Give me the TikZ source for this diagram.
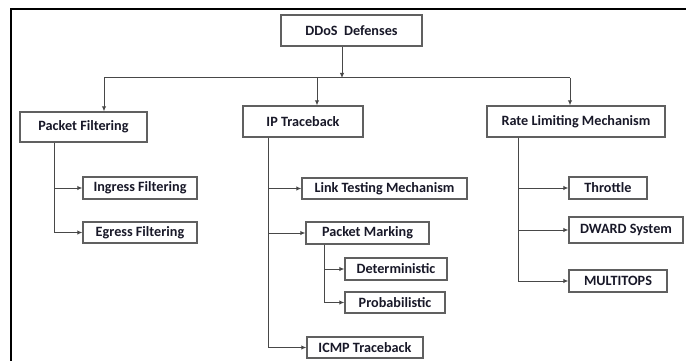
\documentclass[tikz,border=0pt]{standalone}
\usepackage{fontspec}
\setmainfont{Carlito}
\usetikzlibrary{arrows.meta}
\definecolor{boxgray}{HTML}{606060}
\definecolor{linegray}{HTML}{484848}
\definecolor{txt}{HTML}{181828}
\begin{document}
\begin{tikzpicture}[x=1pt,y=-1pt,
  box/.style={draw=boxgray, line width=1.4pt, rectangle, inner sep=0pt, fill=white,
    font=\fontsize{14.2}{16}\selectfont\bfseries, text=txt},
  conn/.style={draw=linegray, line width=1pt},
  arr/.style={conn, -{Latex[length=5pt,width=4.5pt]}}]
\useasboundingbox (0,0) rectangle (686,361);
\fill[white] (0,0) rectangle (686,361);
% outer frame
\draw[line width=2.5pt, black] (11,361) -- (11,9) -- (686,9);
% boxes
\node[box, minimum width=141pt, minimum height=31pt] (dd) at (351.5,30.5) {DDoS~ Defenses};
\node[box, minimum width=127pt, minimum height=30pt] (pf) at (83.5,127) {Packet Filtering};
\node[box, minimum width=120pt, minimum height=31pt] (ip) at (303,121.5) {IP Traceback};
\node[box, minimum width=178pt, minimum height=31pt] (rl) at (576,121.5) {Rate Limiting Mechanism};
\node[box, minimum width=114pt, minimum height=22pt] (ing) at (140,188) {Ingress Filtering};
\node[box, minimum width=114pt, minimum height=21pt] (egr) at (140,232.5) {Egress Filtering};
\node[box, minimum width=165pt, minimum height=21pt] (lt) at (384.5,188.5) {Link Testing Mechanism};
\node[box, minimum width=123pt, minimum height=22pt] (pm) at (367.5,233) {Packet Marking};
\node[box, minimum width=102pt, minimum height=22pt] (det) at (396,269) {Deterministic};
\node[box, minimum width=100pt, minimum height=21pt] (prob) at (395,302.5) {Probabilistic};
\node[box, minimum width=116pt, minimum height=21pt] (icmp) at (365,347.5) {ICMP Traceback};
\node[box, minimum width=78pt, minimum height=22pt] (thr) at (608,188) {Throttle};
\node[box, minimum width=114pt, minimum height=26pt] (dw) at (626,230) {DWARD System};
\node[box, minimum width=98pt, minimum height=22pt] (mt) at (618,281) {MULTITOPS};
% bus
\coordinate (bus) at (342,78);
\coordinate (busL) at (104,78);
\coordinate (busM) at (317,78);
\coordinate (busR) at (570,78);
\draw[arr] (dd.south -| bus) -- (bus);
\draw[conn] (busL) -- (busR);
\draw[arr] (busL) -- (busL |- pf.north);
\draw[arr] (busM) -- (busM |- ip.north);
\draw[arr] (busR) -- (busR |- rl.north);
% trunks
\coordinate (pfx) at (54,0);
\coordinate (ipx) at (268,0);
\coordinate (pmx) at (324,0);
\coordinate (rlx) at (518,0);
\draw[arr] (pf.south -| pfx) |- (ing.west);
\draw[arr] (pf.south -| pfx) |- (egr.west);
\draw[arr] (ip.south -| ipx) |- (lt.west);
\draw[arr] (ip.south -| ipx) |- (pm.west);
\draw[arr] (ip.south -| ipx) |- (icmp.west);
\draw[arr] (pm.south -| pmx) |- (det.west);
\draw[arr] (pm.south -| pmx) |- (prob.west);
\draw[arr] (rl.south -| rlx) |- (thr.west);
\draw[arr] (rl.south -| rlx) |- (dw.west);
\draw[arr] (rl.south -| rlx) |- (mt.west);
\end{tikzpicture}
\end{document}
